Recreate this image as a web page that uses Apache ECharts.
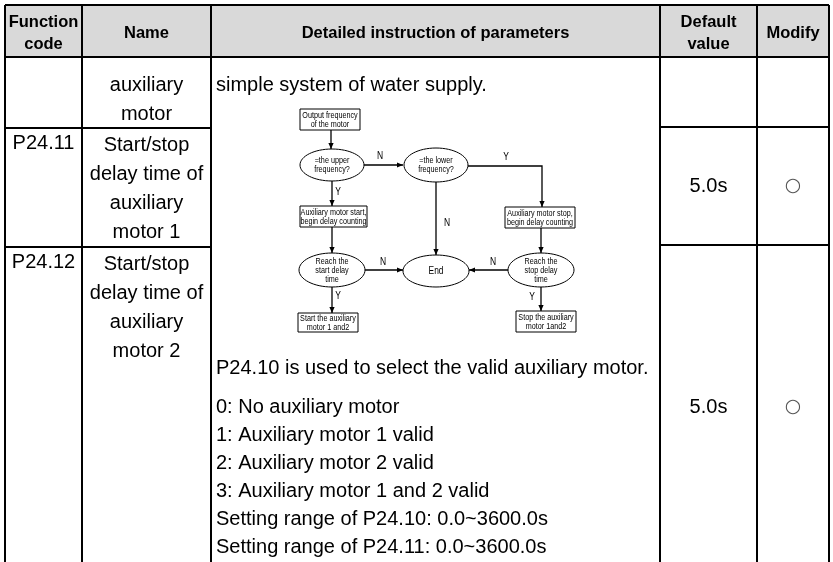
<!DOCTYPE html>
<html>
<head>
<meta charset="utf-8">
<script src="https://cdn.jsdelivr.net/npm/echarts@6/dist/echarts.min.js"></script>
<style>html,body{margin:0;padding:0;background:#fff}#c{width:833px;height:562px}</style>
</head>
<body>
<div id="c"></div>
<script>
// ---- data ----
const headers = ['Function\ncode', 'Name', 'Detailed instruction of parameters', 'Default\nvalue', 'Modify'];
const codes = ['', 'P24.11', 'P24.12'];
const names = ['auxiliary\nmotor', 'Start/stop\ndelay time of\nauxiliary\nmotor 1', 'Start/stop\ndelay time of\nauxiliary\nmotor 2'];
const defaults = ['', '5.0s', '5.0s'];
const modifies = ['', '\u25CB', '\u25CB'];
const introLine = 'simple system of water supply.';
const selectLine = 'P24.10 is used to select the valid auxiliary motor.';
const optionLines = ['0: No auxiliary motor', '1: Auxiliary motor 1 valid', '2: Auxiliary motor 2 valid', '3: Auxiliary motor 1 and 2 valid', 'Setting range of P24.10: 0.0~3600.0s', 'Setting range of P24.11: 0.0~3600.0s'];
const flowLabels = {
  out: 'Output frequency\nof the motor',
  upper: '=the upper\nfrequency?',
  lower: '=the lower\nfrequency?',
  startCnt: 'Auxiliary motor start,\nbegin delay counting',
  stopCnt: 'Auxiliary motor stop,\nbegin delay counting',
  reachStart: 'Reach the\nstart delay\ntime',
  reachStop: 'Reach the\nstop delay\ntime',
  end: 'End',
  startBoth: 'Start the auxiliary\nmotor 1 and2',
  stopBoth: 'Stop the auxiliary\nmotor 1and2'
};
const edgeLabels = ['N', 'Y', 'N', 'N', 'Y', 'N', 'Y', 'Y'];

// ---- layout ----
const colX = [5, 82, 211, 660, 757, 829];
const tableTop = 5, headBottom = 57;
const leftRowLines = [128, 247];
const rightRowLines = [127, 245];
const tableBottom = 570;
const BODY = '20px "Liberation Sans", Arial, sans-serif';
const HEAD = 'bold 16.5px "Liberation Sans", Arial, sans-serif';
const SMALL = '8.6px "Liberation Sans", Arial, sans-serif';
const els = [];

function line(x1, y1, x2, y2, w) {
  els.push({type: 'line', shape: {x1, y1, x2, y2}, style: {stroke: '#000', lineWidth: w || 2}, z: 10});
}
function text(t, x, y, font, align, lh, fill, z, sx) {
  const el = {type: 'text', style: {text: t, x, y, font, align: align || 'center', verticalAlign: 'middle', lineHeight: lh, fill: fill || '#000'}, z: z || 11};
  if (sx) { el.scaleX = sx; el.originX = x; el.originY = y; }
  els.push(el);
}

els.push({type: 'rect', shape: {x: colX[0], y: tableTop, width: colX[5] - colX[0], height: headBottom - tableTop}, style: {fill: '#d9d9d9'}, z: 1});
headers.forEach((h, i) => {
  const cx = (colX[i] + colX[i + 1]) / 2;
  text(h, cx, (tableTop + headBottom) / 2 + 2, HEAD, 'center', 22);
});
line(colX[0], tableTop, colX[5], tableTop);
line(colX[0], headBottom, colX[5], headBottom);
colX.forEach(x => line(x, tableTop, x, tableBottom));
leftRowLines.forEach(y => line(colX[0], y, colX[2], y));
rightRowLines.forEach(y => line(colX[3], y, colX[5], y));

const leftTops = [headBottom, leftRowLines[0], leftRowLines[1]];
codes.forEach((c, i) => { if (c) text(c, (colX[0] + colX[1]) / 2, leftTops[i] + 15, BODY, 'center', 29); });
names.forEach((n, i) => {
  els.push({type: 'text', style: {text: n, x: (colX[1] + colX[2]) / 2, y: leftTops[i] + (i === 0 ? 14 : 3), font: BODY, align: 'center', verticalAlign: 'top', lineHeight: 29, fill: '#000'}, z: 11});
});
const rightCenters = [(headBottom + rightRowLines[0]) / 2, (rightRowLines[0] + rightRowLines[1]) / 2, 407];
defaults.forEach((d, i) => { if (d) text(d, (colX[3] + colX[4]) / 2, rightCenters[i], BODY, 'center'); });
modifies.forEach((m, i) => { if (m) text(m, (colX[4] + colX[5]) / 2, rightCenters[i], '19px "DejaVu Sans", sans-serif', 'center', null, '#555'); });

const dx = 216;
text(introLine, dx, 85, BODY, 'left');
text(selectLine, dx, 368, BODY, 'left');
optionLines.forEach((t, i) => text(t, dx, 407 + i * 28, BODY, 'left'));

// ---- flowchart ----
function box(key, x1, y1, x2, y2) {
  els.push({type: 'rect', shape: {x: x1, y: y1, width: x2 - x1, height: y2 - y1}, style: {fill: '#fff', stroke: '#000', lineWidth: 1}, z: 12});
  text(flowLabels[key], (x1 + x2) / 2, (y1 + y2) / 2 + 0.5, SMALL, 'center', 9, '#000', 20, 0.84);
}
function ell(key, cx, cy, rx, ry) {
  els.push({type: 'ellipse', shape: {cx, cy, rx, ry}, style: {fill: '#fff', stroke: '#000', lineWidth: 1}, z: 12});
  text(flowLabels[key], cx, cy + 0.5, key === 'end' ? '10px "Liberation Sans", sans-serif' : SMALL, 'center', 9, '#000', 20, 0.84);
}
function arrow(pts) {
  els.push({type: 'polyline', shape: {points: pts}, style: {stroke: '#000', lineWidth: 1.3, fill: null}, z: 12});
  const [x1, y1] = pts[pts.length - 2], [x2, y2] = pts[pts.length - 1];
  const ang = Math.atan2(y2 - y1, x2 - x1), L = 6, W = 2.6;
  const bx = x2 - L * Math.cos(ang), by = y2 - L * Math.sin(ang);
  const px = -Math.sin(ang) * W, py = Math.cos(ang) * W;
  els.push({type: 'polygon', shape: {points: [[x2, y2], [bx + px, by + py], [bx - px, by - py]]}, style: {fill: '#000'}, z: 13});
}
const LBL = '10px "Liberation Sans", sans-serif';
function lbl(i, x, y) { text(edgeLabels[i], x, y, LBL, 'center', null, '#000', 20, 0.85); }

box('out', 300, 109, 360, 130);
arrow([[331, 130], [331, 149]]);
ell('upper', 332, 165, 32, 16);
arrow([[364, 165], [403, 165]]);
lbl(0, 380, 156);
ell('lower', 436, 165, 32, 17);
arrow([[332, 181], [332, 206]]);
lbl(1, 338, 192);
box('startCnt', 300, 206, 367, 227);
arrow([[332, 227], [332, 253]]);
ell('reachStart', 332, 270, 33, 17);
arrow([[365, 270], [403, 270]]);
lbl(2, 383, 262);
ell('end', 436, 271, 33, 16);
arrow([[436, 182], [436, 255]]);
lbl(3, 447, 223);
arrow([[468, 166], [542, 166], [542, 207]]);
lbl(4, 506, 157);
box('stopCnt', 505, 207, 575, 228);
arrow([[541, 228], [541, 253]]);
ell('reachStop', 541, 270, 33, 17);
arrow([[508, 270], [469, 270]]);
lbl(5, 493, 262);
arrow([[332, 287], [332, 313]]);
lbl(6, 338, 296);
box('startBoth', 298, 313, 358, 332);
arrow([[541, 287], [541, 311]]);
lbl(7, 532, 297);
box('stopBoth', 516, 311, 576, 332);

const chart = echarts.init(document.getElementById('c'), null, {renderer: 'canvas'});
chart.setOption({animation: false, backgroundColor: '#fff', graphic: {elements: els}});
</script>
</body>
</html>
